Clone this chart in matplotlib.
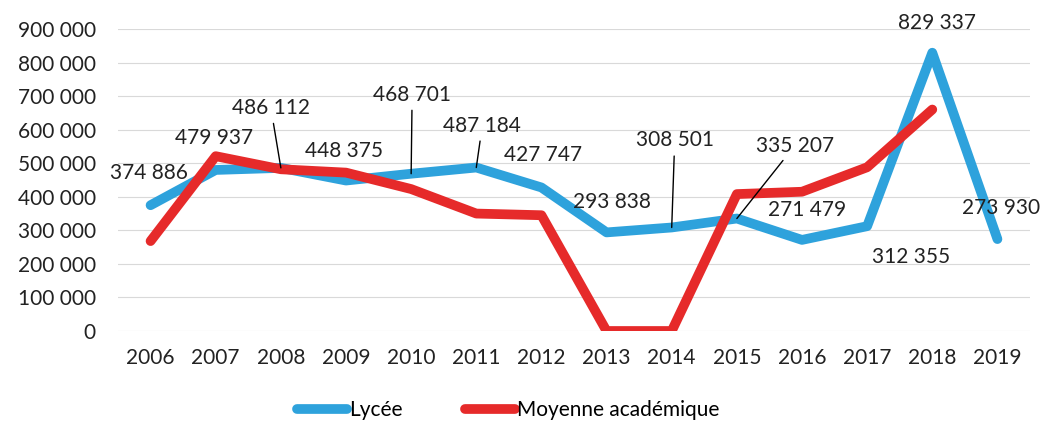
import matplotlib.pyplot as plt

plt.rcParams['font.family'] = ['Lato', 'DejaVu Sans']

annees = ['2006', '2007', '2008', '2009', '2010', '2011', '2012',
          '2013', '2014', '2015', '2016', '2017', '2018', '2019']
lycee = [374886, 479937, 486112, 448375, 468701, 487184, 427747,
         293838, 308501, 335207, 271479, 312355, 829337, 273930]
moyenne = [268000, 521000, 482000, 472000, 423000, 350000, 345000,
           0, 0, 408000, 415000, 488000, 660000]

# position des étiquettes (décalage en pixels) et trait de rappel ou non
decalages = [(-2, 32), (-2, 32), (-10, 60), (-2, 30), (1, 79), (6, 42), (2, 32),
             (5, 30), (3, 87), (58, 73), (5, 30), (44, -31), (5, 30), (4, 31)]
rappel = [False, False, True, False, True, True, False,
          False, True, True, False, False, False, False]

bleu = '#2EA2DC'
rouge = '#E62A2A'

fig = plt.figure(figsize=(10.53, 4.30), dpi=100)
ax = fig.add_axes([118 / 1053, 1 - 331 / 430, (1030 - 118) / 1053, 302 / 430])

x = list(range(len(annees)))
ax.plot(x, lycee, color=bleu, lw=7, solid_capstyle='round', solid_joinstyle='round', label='Lycée', zorder=3)
ax.plot(x[:len(moyenne)], moyenne, color=rouge, lw=7, solid_capstyle='round', solid_joinstyle='round',
        label='Moyenne académique', zorder=4)

for i, v in enumerate(lycee):
    txt = f'{v:,}'.replace(',', ' ')
    dx, dy = decalages[i]
    props = dict(arrowstyle='-', color='black', lw=1, shrinkA=2, shrinkB=0) if rappel[i] else None
    ax.annotate(txt, xy=(i, v), xytext=(dx, dy), textcoords='offset pixels',
                ha='center', va='center', fontsize=15, color='#222222',
                arrowprops=props, zorder=5)

ax.set_xlim(-0.5, len(annees) - 0.5)
ax.set_ylim(0, 900000)
ax.set_yticks(range(0, 900001, 100000))
ax.set_yticklabels([f'{t:,}'.replace(',', ' ') for t in range(0, 900001, 100000)])
ax.set_xticks(x)
ax.set_xticklabels(annees)
ax.tick_params(length=0, labelsize=15, colors='#222222')
ax.tick_params(axis='x', pad=12)
ax.tick_params(axis='y', pad=16)
ax.grid(axis='y', color='#d9d9d9', lw=0.8)
ax.set_axisbelow(True)
for s in ax.spines.values():
    s.set_visible(False)

fig.legend(loc='center', bbox_to_anchor=(508 / 1053, 1 - 410 / 430), ncol=2, frameon=False,
           fontsize=15, handlelength=2.4, handletextpad=0.1, columnspacing=3)

plt.savefig('out.png')
